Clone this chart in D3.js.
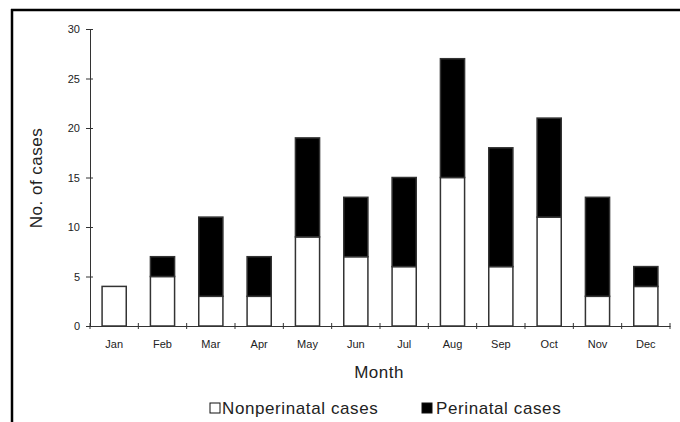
<!DOCTYPE html>
<html><head><meta charset="utf-8">
<script src="https://cdn.jsdelivr.net/npm/d3@7"></script>
<style>html,body{margin:0;padding:0;background:#fff;}svg{display:block;}</style>
</head><body>
<script>
const months = ["Jan","Feb","Mar","Apr","May","Jun","Jul","Aug","Sep","Oct","Nov","Dec"];
const nonperinatal = [4,5,3,3,9,7,6,15,6,11,3,4];
const perinatal = [0,2,8,4,10,6,9,12,12,10,10,2];
const yTicks = [0,5,10,15,20,25,30];
const seriesNames = ["Nonperinatal cases","Perinatal cases"];

const W = 680, H = 422;
const svg = d3.select("body").append("svg").attr("width", W).attr("height", H);
const font = "'Liberation Sans', Arial, sans-serif";
const txt = "#222";

// frame
svg.append("line").attr("x1",12).attr("x2",12).attr("y1",9).attr("y2",H).attr("stroke","#000").attr("stroke-width",2.5);
svg.append("line").attr("x1",11).attr("x2",W).attr("y1",10).attr("y2",10).attr("stroke","#000").attr("stroke-width",2.5);

const x = d3.scaleBand().domain(months).range([90,670]).paddingInner(0.5).paddingOuter(0.25);
const y = d3.scaleLinear().domain([0,30]).range([326,29]);

const data = months.map((m,i)=>({m, a:nonperinatal[i], b:perinatal[i]}));

const g = svg.append("g");
g.selectAll("rect.np").data(data).enter().append("rect")
  .attr("x", d=>x(d.m)).attr("width", x.bandwidth())
  .attr("y", d=>y(d.a)).attr("height", d=>y(0)-y(d.a))
  .attr("fill","#fff").attr("stroke","#333").attr("stroke-width",1.5);
g.selectAll("rect.p").data(data.filter(d=>d.b>0)).enter().append("rect")
  .attr("x", d=>x(d.m)).attr("width", x.bandwidth())
  .attr("y", d=>y(d.a+d.b)).attr("height", d=>y(d.a)-y(d.a+d.b))
  .attr("fill","#000").attr("stroke","#333").attr("stroke-width",1.5);

// y axis
const yAxis = d3.axisLeft(y).tickValues(yTicks).tickSize(0).tickPadding(10);
const ya = svg.append("g").attr("transform","translate(90,0)").call(yAxis);
ya.select(".domain").attr("stroke","#333");
ya.selectAll(".tick text").attr("font-family",font).attr("font-size",11).attr("fill",txt);
ya.selectAll(".tick").append("line").attr("x1",-4).attr("x2",3).attr("stroke","#333");

// x axis
const xAxis = d3.axisBottom(x).tickSize(0).tickPadding(14);
const xa = svg.append("g").attr("transform","translate(0,326)").call(xAxis);
xa.select(".domain").attr("stroke","#333");
xa.selectAll(".tick text").attr("font-family",font).attr("font-size",11).attr("fill",txt);
const bounds = d3.range(months.length+1).map(i=>x.range()[0] + i*x.step());
xa.selectAll("line.bt").data(bounds).enter().append("line").attr("class","bt")
  .attr("x1",d=>d).attr("x2",d=>d).attr("y1",-3).attr("y2",3).attr("stroke","#333");

// axis titles
svg.append("text").attr("x",379).attr("y",378).attr("text-anchor","middle")
  .attr("font-family",font).attr("font-size",17).attr("letter-spacing",0.5).attr("fill",txt).text("Month");
svg.append("text").attr("transform","translate(42,178) rotate(-90)").attr("text-anchor","middle")
  .attr("font-family",font).attr("font-size",17).attr("letter-spacing",0.5).attr("fill",txt).text("No. of cases");

// legend
const leg = svg.append("g");
const legItems = [{name:seriesNames[0], fill:"#fff", bx:210, tx:222},{name:seriesNames[1], fill:"#000", bx:422, tx:436}];
legItems.forEach(it=>{
  leg.append("rect").attr("x",it.bx).attr("y",403).attr("width",10).attr("height",10)
    .attr("fill",it.fill).attr("stroke","#111").attr("stroke-width",1);
  leg.append("text").attr("x",it.tx).attr("y",414).attr("font-family",font).attr("font-size",17)
    .attr("letter-spacing",0.6).attr("fill",txt).text(it.name);
});
</script>
</body></html>
